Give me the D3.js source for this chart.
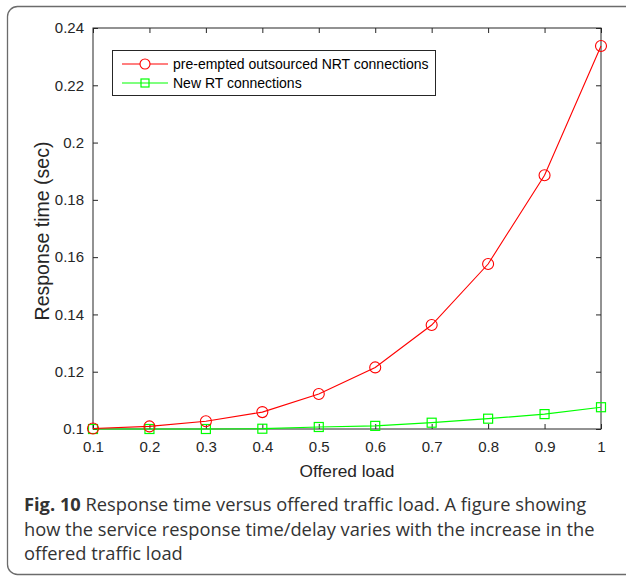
<!DOCTYPE html>
<html>
<head>
<meta charset="utf-8">
<script src="https://cdn.jsdelivr.net/npm/d3@7"></script>
<style>
  body { margin: 0; background: #fff; }
  svg { display: block; }
</style>
</head>
<body>
<script>
// response time vs offered load

var loads = [0.1, 0.2, 0.3, 0.4, 0.5, 0.6, 0.7, 0.8, 0.9, 1.0];
var nrtValues = [0.1002, 0.1009, 0.1027, 0.1059, 0.1122, 0.1215, 0.1363, 0.1576, 0.1886, 0.2337];
var rtValues = [0.1000, 0.1000, 0.1000, 0.1001, 0.1007, 0.1011, 0.1022, 0.1036, 0.1052, 0.1076];
var xTicks = [0.1, 0.2, 0.3, 0.4, 0.5, 0.6, 0.7, 0.8, 0.9, 1];
var yTicks = [0.1, 0.12, 0.14, 0.16, 0.18, 0.2, 0.22, 0.24];
var seriesNames = ["pre-empted outsourced NRT connections", "New RT connections"];
var captionLines = [
  ["Fig. 10", " Response time versus offered traffic load. A figure showing"],
  ["", "how the service response time/delay varies with the increase in the"],
  ["", "offered traffic load"]
];

var W = 626, H = 577;
var plotL = 93, plotR = 601, plotT = 28, plotB = 429;
var axisColor = "#262626";
var axisFont = "'Liberation Sans', Arial, sans-serif";

var svg = d3.select("body").append("svg").attr("width", W).attr("height", H);

// outer frame with rounded corners
svg.append("rect")
  .attr("x", 7.5).attr("y", 6.5)
  .attr("width", 640).attr("height", 568)
  .attr("rx", 10).attr("ry", 10)
  .attr("fill", "none").attr("stroke", "#6b6b6b").attr("stroke-width", 1.3);

var x = d3.scaleLinear().domain([0.1, 1]).range([plotL, plotR]);
var y = d3.scaleLinear().domain([0.1, 0.24]).range([plotB, plotT]);

var g = svg.append("g");

// box
g.append("rect")
  .attr("x", plotL).attr("y", plotT)
  .attr("width", plotR - plotL).attr("height", plotB - plotT)
  .attr("fill", "none").attr("stroke", axisColor).attr("stroke-width", 1);

// axes, ticks inward
var xAxis = g.append("g").attr("transform", "translate(0," + plotB + ")")
  .call(d3.axisBottom(x).tickValues(xTicks).tickSize(-5).tickPadding(12)
    .tickFormat(function (d) { return d === 1 ? "1" : d3.format(".1f")(d); }));
var xTop = g.append("g").attr("transform", "translate(0," + plotT + ")")
  .call(d3.axisTop(x).tickValues(xTicks).tickSize(-5).tickFormat(""));
var yAxis = g.append("g").attr("transform", "translate(" + plotL + ",0)")
  .call(d3.axisLeft(y).tickValues(yTicks).tickSize(-5).tickPadding(9)
    .tickFormat(function (d) { return d3.format("~g")(+d.toFixed(2)); }));
var yRight = g.append("g").attr("transform", "translate(" + plotR + ",0)")
  .call(d3.axisRight(y).tickValues(yTicks).tickSize(-5).tickFormat(""));

[xAxis, xTop, yAxis, yRight].forEach(function (a) {
  a.select(".domain").remove();
  a.selectAll("line").attr("stroke", axisColor);
  a.selectAll("text")
    .attr("fill", axisColor)
    .style("font-family", axisFont)
    .style("font-size", "15px");
});

// axis labels
g.append("text")
  .attr("x", (plotL + plotR) / 2).attr("y", 476.5)
  .attr("text-anchor", "middle")
  .attr("fill", axisColor)
  .style("font-family", axisFont)
  .style("font-size", "17.3px")
  .text("Offered load");

g.append("text")
  .attr("transform", "translate(49,231) rotate(-90)")
  .attr("text-anchor", "middle")
  .attr("fill", axisColor)
  .style("font-family", axisFont)
  .style("font-size", "19.5px")
  .text("Response time (sec)");

var line = d3.line()
  .x(function (d) { return x(d[0]); })
  .y(function (d) { return y(d[1]); });

var nrtData = loads.map(function (l, i) { return [l, nrtValues[i]]; });
var rtData = loads.map(function (l, i) { return [l, rtValues[i]]; });

// green series
g.append("path")
  .attr("fill", "none").attr("stroke", "#00ff00").attr("stroke-width", 1.2)
  .attr("d", line(rtData));
g.selectAll("rect.rt")
  .data(rtData)
  .enter().append("rect")
  .attr("class", "rt")
  .attr("x", function (d) { return x(d[0]) - 4.5; })
  .attr("y", function (d) { return y(d[1]) - 4.5; })
  .attr("width", 9).attr("height", 9)
  .attr("fill", "none").attr("stroke", "#00ff00").attr("stroke-width", 1.2);

// red series
g.append("path")
  .attr("fill", "none").attr("stroke", "#ff0000").attr("stroke-width", 1.1)
  .attr("d", line(nrtData));
g.selectAll("circle.nrt")
  .data(nrtData)
  .enter().append("circle")
  .attr("class", "nrt")
  .attr("cx", function (d) { return x(d[0]); })
  .attr("cy", function (d) { return y(d[1]); })
  .attr("r", 5.5)
  .attr("fill", "none").attr("stroke", "#ff0000").attr("stroke-width", 1.1);

// legend
var leg = g.append("g");
leg.append("rect")
  .attr("x", 112.5).attr("y", 50.5).attr("width", 323).attr("height", 45)
  .attr("fill", "#fff").attr("stroke", axisColor).attr("stroke-width", 1);

var legColors = ["#ff0000", "#00ff00"];
var legRows = [64, 83];
seriesNames.forEach(function (name, i) {
  var ly = legRows[i];
  leg.append("line")
    .attr("x1", 122).attr("x2", 168).attr("y1", ly).attr("y2", ly)
    .attr("stroke", legColors[i]).attr("stroke-width", 1.2);
  if (i === 0) {
    leg.append("circle").attr("cx", 145).attr("cy", ly).attr("r", 5)
      .attr("fill", "#fff").attr("stroke", legColors[i]).attr("stroke-width", 1.1);
  } else {
    leg.append("rect").attr("x", 141).attr("y", ly - 4).attr("width", 8).attr("height", 8)
      .attr("fill", "none").attr("stroke", legColors[i]).attr("stroke-width", 1.2);
  }
  leg.append("text")
    .attr("x", 173).attr("y", ly + 5)
    .attr("fill", "#000")
    .style("font-family", axisFont)
    .style("font-size", "14px")
    .text(name);
});

// caption
var cap = svg.append("g")
  .style("font-family", "'Open Sans', sans-serif")
  .style("font-size", "18.3px")
  .attr("fill", "#333");
var capY = [511, 536, 560];
captionLines.forEach(function (parts, i) {
  var t = cap.append("text").attr("x", 24).attr("y", capY[i]);
  if (parts[0]) t.append("tspan").style("font-weight", "bold").text(parts[0]);
  t.append("tspan").text(parts[1]);
});
</script>
</body>
</html>
